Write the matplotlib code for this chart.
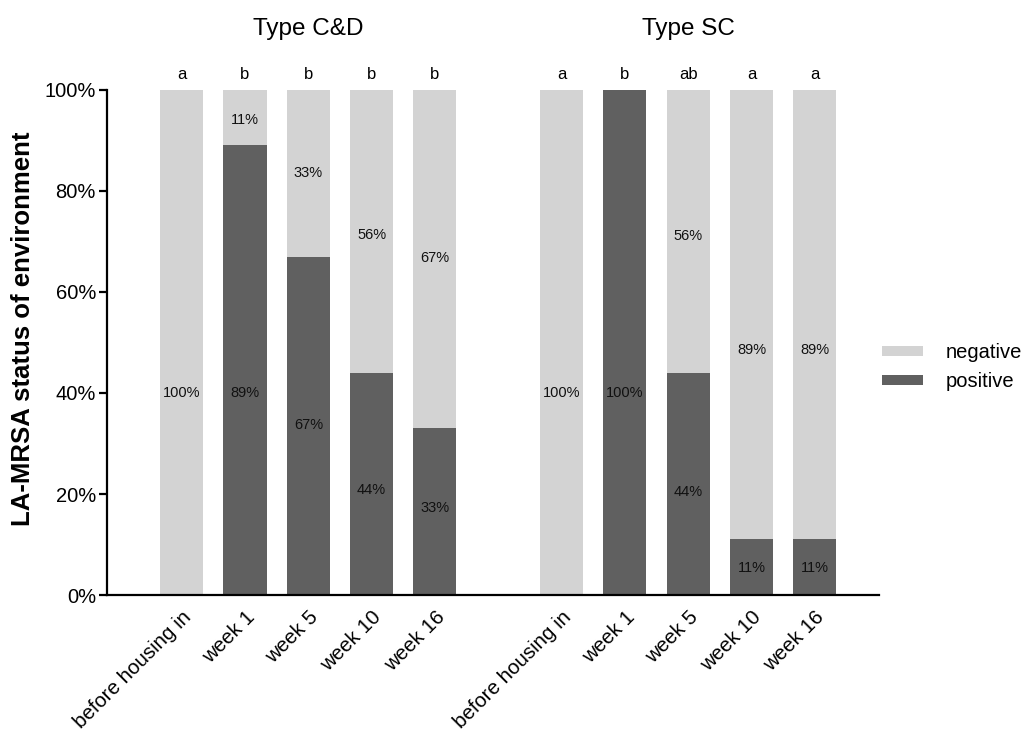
import matplotlib.pyplot as plt
import numpy as np

plt.rcParams['font.family'] = ['Liberation Sans', 'DejaVu Sans']

# ---------------------------------------------------------------------------
# Data
# ---------------------------------------------------------------------------
timepoints = ["before housing in", "week 1", "week 5", "week 10", "week 16"]
groups = ["Type C&D", "Type SC"]

positive_cd = [0, 89, 67, 44, 33]
positive_sc = [0, 100, 44, 11, 11]

letters_cd = ["a", "b", "b", "b", "b"]
letters_sc = ["a", "b", "ab", "a", "a"]

# vertical placement (in %) of the value labels, as drawn in the original
neg_label_y_cd = [40, 94, 83.6, 71.3, 66.7]
pos_label_y_cd = [None, 40, 33.7, 20.8, 17.2]
neg_label_y_sc = [40, None, 71, 48.5, 48.5]
pos_label_y_sc = [None, 40, 20.4, 5.3, 5.3]

NEG_COLOR = "#d3d3d3"
POS_COLOR = "#606060"

# ---------------------------------------------------------------------------
# Layout
# ---------------------------------------------------------------------------
x_cd = np.arange(5)
x_sc = np.arange(5) + 6
BAR_W = 0.68

fig = plt.figure(figsize=(10.27, 7.31), dpi=100)
ax = fig.add_axes([0.1042, 0.186, 0.752, 0.691])

positive = positive_cd + positive_sc
negative = [100 - p for p in positive]
xs = np.concatenate([x_cd, x_sc])

ax.bar(xs, positive, width=BAR_W, color=POS_COLOR, label="positive")
ax.bar(xs, negative, width=BAR_W, bottom=positive, color=NEG_COLOR,
       label="negative")

# value labels
neg_label_y = neg_label_y_cd + neg_label_y_sc
pos_label_y = pos_label_y_cd + pos_label_y_sc
for x, p, n, py, ny in zip(xs, positive, negative, pos_label_y, neg_label_y):
    if p > 0 and py is not None:
        ax.text(x, py, f"{p}%", ha="center", va="center", fontsize=10.5,
                color="#111111")
    if n > 0 and ny is not None:
        ax.text(x, ny, f"{n}%", ha="center", va="center", fontsize=10.5,
                color="#111111")

# significance letters
for x, lt in zip(xs, letters_cd + letters_sc):
    ax.text(x, 103, lt, ha="center", va="center", fontsize=12,
            clip_on=False)

# group titles
ax.text(x_cd.mean(), 112, groups[0], ha="center", va="center", fontsize=17.5)
ax.text(x_sc.mean(), 112, groups[1], ha="center", va="center", fontsize=17.5)

ax.set_xlim(-1.18, 11.02)
ax.set_ylim(0, 100)
ax.set_xticks(xs)
ax.set_xticklabels(timepoints + timepoints, rotation=45, ha="right",
                   rotation_mode="anchor", fontsize=14.8)
ax.tick_params(axis="x", length=0, pad=9)
ax.set_yticks(np.arange(0, 101, 20))
ax.set_yticklabels([f"{v}%" for v in range(0, 101, 20)], fontsize=14.5)
ax.tick_params(axis="y", length=6, width=1.6, pad=2)

for side in ("top", "right"):
    ax.spines[side].set_visible(False)
for side in ("left", "bottom"):
    ax.spines[side].set_linewidth(1.6)

ax.set_ylabel("LA-MRSA status of environment", fontsize=18.5,
              fontweight="bold")
ax.yaxis.set_label_coords(-0.093, 0.528)

handles, labels = ax.get_legend_handles_labels()
fig.legend(handles[::-1], labels[::-1], loc="center left",
           bbox_to_anchor=(882 / 1027, 1 - 367 / 731), frameon=False,
           fontsize=14.5, handlelength=2.05, handleheight=0.4,
           handletextpad=1.1, labelspacing=0.5, borderpad=0,
           borderaxespad=0)

fig.savefig("out.png", dpi=100)
